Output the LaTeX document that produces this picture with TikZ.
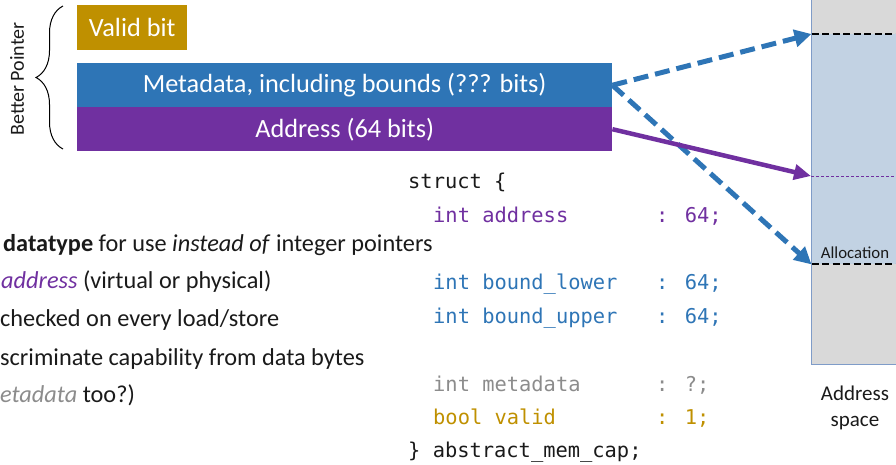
\documentclass[tikz,border=0pt]{standalone}
\usepackage{fontspec}
\setmainfont{Carlito}
\newfontfamily\codefont{DejaVu Sans Mono}
\usetikzlibrary{arrows.meta,decorations.pathreplacing}
\definecolor{cgold}{HTML}{BF9000}
\definecolor{cblue}{HTML}{2E75B6}
\definecolor{cpurple}{HTML}{7030A0}
\definecolor{cgray}{HTML}{8C8C8C}
\definecolor{ctext}{HTML}{1A1A1A}
\definecolor{spacegray}{HTML}{D9D9D9}
\definecolor{spaceblue}{HTML}{C2D2E3}
\definecolor{spaceedge}{HTML}{7F9CC8}
\tikzset{
  bar/.style={inner sep=0pt, anchor=north west, text=white, font=\fontsize{26.3}{30}\selectfont},
  body/.style={inner sep=0pt, anchor=base west, text=ctext, font=\fontsize{24.3}{28}\selectfont},
  code/.style={inner sep=0pt, anchor=base west, text=ctext, font=\codefont\fontsize{20.4}{24}\selectfont},
  ptrdash/.style={cblue, line width=5pt, dash pattern=on 15pt off 7pt, -{Triangle[length=17pt,width=17pt]}},
  ptrsolid/.style={cpurple, line width=4.5pt, -{Triangle[length=17pt,width=15pt]}},
  bound/.style={black, line width=2pt, dash pattern=on 7pt off 3.5pt},
}
\begin{document}
\begin{tikzpicture}[x=1pt,y=-1pt]
\useasboundingbox (0,0) rectangle (896,464);
\clip (0,0) rectangle (896,464);
% address space
\node[draw=spaceedge, line width=1pt, fill=spacegray, inner sep=0pt, anchor=north west,
      minimum width=110pt, minimum height=374pt] (space) at (811,-10) {};
\node[fill=spaceblue, inner sep=0pt, anchor=north west,
      minimum width=100pt, minimum height=230pt] (alloc) at (811.5,34) {};
\draw[spaceedge, line width=1pt] (space.north west) -- (space.south west);
\draw[bound] (alloc.north west) -- ++(100,0);
\draw[bound] (alloc.south west) -- ++(100,0);
\coordinate (addrpt) at (811,176);
\draw[cpurple, line width=0.8pt, dash pattern=on 3pt off 2pt] (addrpt) -- ++(100,0);
\node[inner sep=0pt, text=ctext, font=\fontsize{16.8}{19}\selectfont] (alloclbl) at (855,253) {Allocation};
\node[inner sep=0pt, text=ctext, align=center, font=\fontsize{21}{26}\selectfont] (spacelbl) at (855,408) {Address\\space};
% pointer boxes
\node[bar, fill=cgold, minimum width=110pt, minimum height=45pt] (valid) at (77,5) {Valid bit};
\node[bar, fill=cblue, minimum width=535pt, minimum height=44pt] (meta) at (77,63) {Metadata, including bounds (??? bits)};
\node[bar, fill=cpurple, minimum width=535pt, minimum height=44pt] (addr) at (77,107) {Address (64 bits)};
% brace
\coordinate (bb) at (63,149);
\coordinate (bt) at (63,6);
\draw[black, line width=1pt, decorate, decoration={brace, amplitude=27pt}] (bb) -- (bt);
\node[inner sep=0pt, rotate=90, text=ctext, font=\fontsize{20}{22}\selectfont] (bp) at (17,79) {Better Pointer};
% arrows
\draw[ptrdash] (meta.east) -- (alloc.north west);
\draw[ptrdash] (meta.east) -- (alloc.south west);
\draw[ptrsolid] (addr.east) -- (addrpt);
% left text
\node[body] (l1) at (3,251) {\textbf{datatype} for use \textit{instead of} integer pointers};
\node[body] (l2) at (1,288) {\textcolor{cpurple}{\textit{address}} (virtual or physical)};
\node[body] (l3) at (0,326) {checked on every load/store};
\node[body] (l4) at (0,365) {scriminate capability from data bytes};
\node[body] (l5) at (0,402) {\textcolor{cgray}{\textit{etadata}} too?)};
% code
\node[code] (c0) at (408,188) {struct \{};
\node[code, text=cpurple] (c1) at (433,222) {int address};
\node[code, text=cpurple] (c1b) at (656,222) {: 64;};
\node[code, text=cblue] (c2) at (433,289) {int bound\_lower};
\node[code, text=cblue] (c2b) at (656,289) {: 64;};
\node[code, text=cblue] (c3) at (433,323) {int bound\_upper};
\node[code, text=cblue] (c3b) at (656,323) {: 64;};
\node[code, text=cgray] (c4) at (433,391) {int metadata};
\node[code, text=cgray] (c4b) at (656,391) {: ?;};
\node[code, text=cgold] (c5) at (433,424) {bool valid};
\node[code, text=cgold] (c5b) at (656,424) {: 1;};
\node[code] (c6) at (408,457) {\} abstract\_mem\_cap;};
\end{tikzpicture}
\end{document}
